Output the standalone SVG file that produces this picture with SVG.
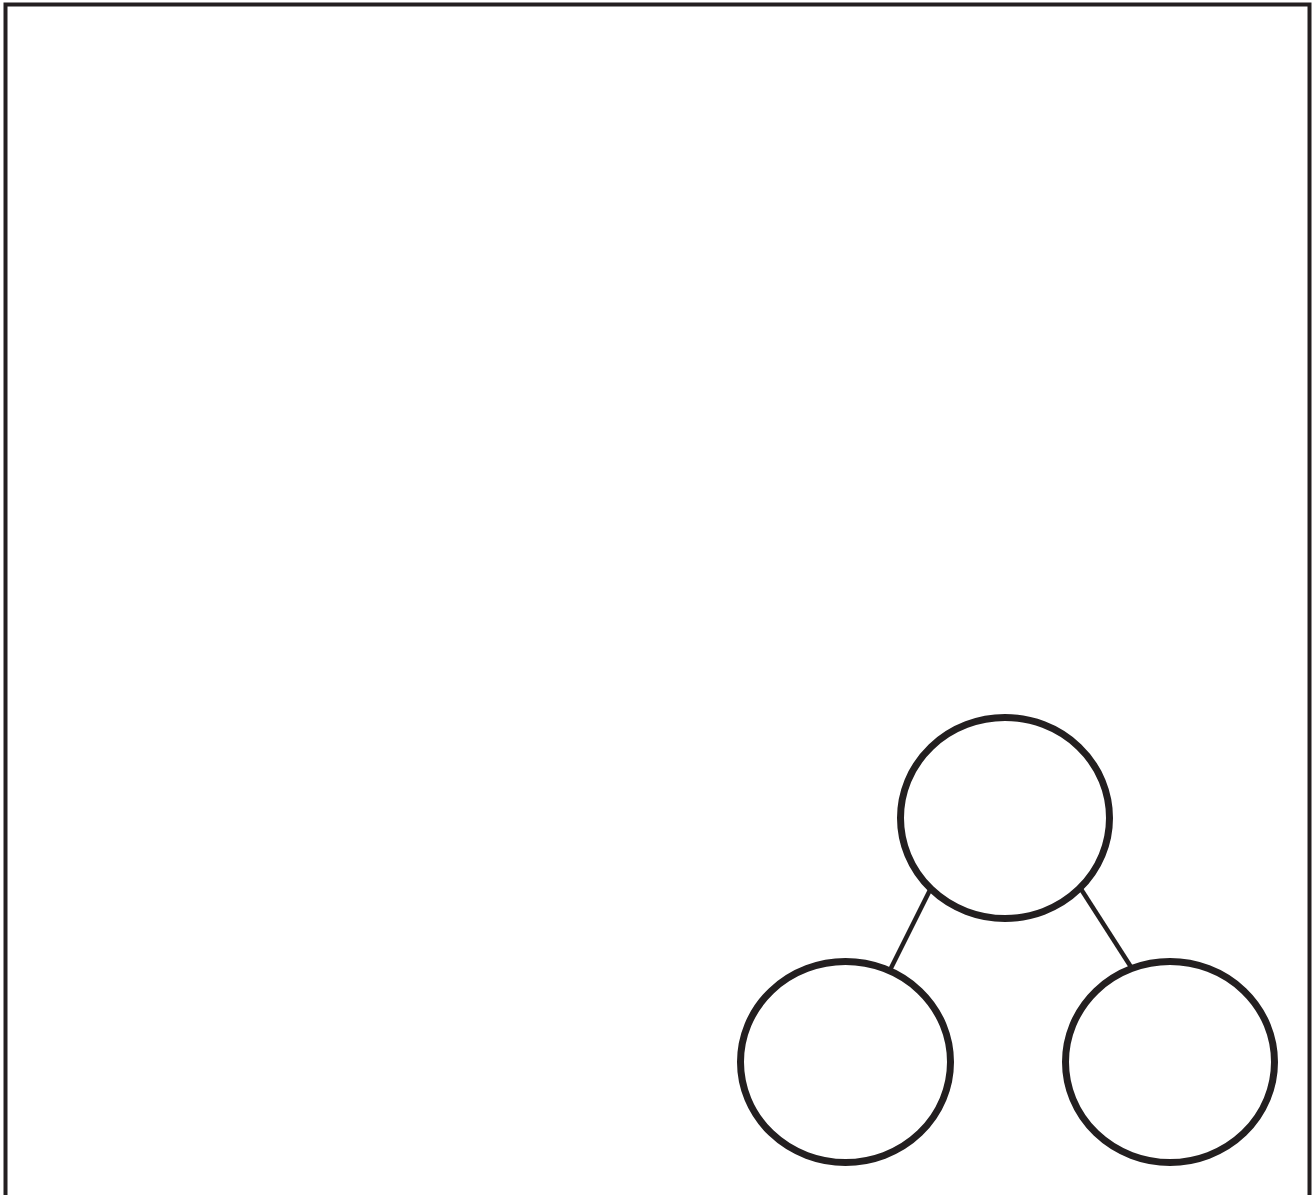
<svg xmlns="http://www.w3.org/2000/svg" width="1316" height="1195" viewBox="0 0 1316 1195">
<style>
.node{fill:#fff;stroke:#231f20;stroke-width:7}
.edge{stroke:#231f20;stroke-width:4.5;fill:none}
</style>
<rect x="0" y="0" width="1316" height="1195" fill="#fff"/>
<rect x="5.5" y="4.5" width="1304" height="1220" fill="none" stroke="#231f20" stroke-width="4"/>
<g id="connectors">
<line class="edge" x1="932" y1="886" x2="890" y2="970"/>
<line class="edge" x1="1079" y1="886" x2="1131" y2="967"/>
</g>
<g id="node-top"><ellipse class="node" cx="1005" cy="818" rx="104.5" ry="100.5"/></g>
<g id="node-left"><ellipse class="node" cx="845.5" cy="1062" rx="105" ry="100.5"/></g>
<g id="node-right"><ellipse class="node" cx="1170" cy="1062" rx="104.5" ry="100.5"/></g>
</svg>
